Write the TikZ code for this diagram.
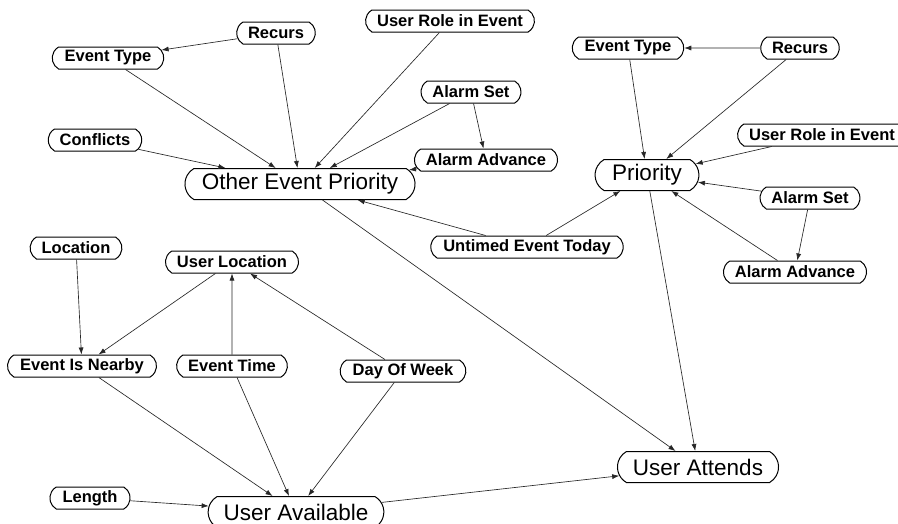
\documentclass[tikz,border=0pt]{standalone}
\usepackage{fontspec}
\setmainfont{Liberation Sans}
\usetikzlibrary{shapes.misc,arrows.meta}
\begin{document}
\begin{tikzpicture}[x=1pt,y=-1pt,
  var/.style={rounded rectangle, rounded rectangle arc length=120, draw,
    line width=1pt, inner xsep=10pt, inner ysep=0pt, minimum height=22pt,
    font=\fontsize{16.5}{19}\selectfont\bfseries},
  key/.style={var, minimum height=31pt, inner xsep=13.5pt,
    font=\fontsize{22.5}{26}\selectfont},
  link/.style={-{Latex[length=7pt,width=5pt]}, line width=0.65pt, draw=black!85},
]
\fill[white] (0,0) rectangle (898,523);
\useasboundingbox (0,0) rectangle (898,523);

% left cluster: other event priority
\node[var] (recL) at (276,33)  {Recurs};
\node[var] (etL)  at (108,58)  {Event Type};
\node[var] (urL)  at (450,21)  {User Role in Event};
\node[var] (conf) at (95,140)  {Conflicts};
\node[var] (asL)  at (471,92)  {Alarm Set};
\node[var] (aaL)  at (486,160) {Alarm Advance};
\node[key] (oep)  at (300,184) {Other Event Priority};
\node[var] (unt)  at (527,247) {Untimed Event Today};

% right cluster: priority
\node[var] (etR)  at (628,48)  {Event Type};
\node[var] (recR) at (800,48)  {Recurs};
\node[var] (urR)  at (822,135) {User Role in Event};
\node[var] (asR)  at (810,198) {Alarm Set};
\node[var] (aaR)  at (795,272) {Alarm Advance};
\node[key] (pri)  at (647,175) {Priority};

% availability
\node[var] (loc)   at (76,248)  {Location};
\node[var] (uloc)  at (232,262) {User Location};
\node[var] (ein)   at (82,366)  {Event Is Nearby};
\node[var] (etime) at (232,366) {Event Time};
\node[var] (dow)   at (403,371) {Day Of Week};
\node[var] (len)   at (90,498)  {Length};
\node[key] (uav)   at (296,512) {User Available};
\node[key] (uatt)  at (698,467) {User Attends};

% influences
\draw[link] (recL) -- (etL);
\draw[link] (etL) -- (oep);
\draw[link] (recL) -- (oep);
\draw[link] (urL) -- (oep);
\draw[link] (asL) -- (oep);
\draw[link] (asL) -- (aaL);
\draw[link] (aaL) -- (oep);
\draw[link] (conf) -- (oep);
\draw[link] (unt) -- (oep);
\draw[link] (unt) -- (pri);
\draw[link] (oep) -- (uatt);

\draw[link] (recR) -- (etR);
\draw[link] (etR) -- (pri);
\draw[link] (recR) -- (pri);
\draw[link] (urR) -- (pri);
\draw[link] (asR) -- (pri);
\draw[link] (asR) -- (aaR);
\draw[link] (aaR) -- (pri);
\draw[link] (pri) -- (uatt);

\draw[link] (loc) -- (ein);
\draw[link] (uloc) -- (ein);
\draw[link] (etime) -- (uloc);
\draw[link] (dow) -- (uloc);
\draw[link] (ein) -- (uav);
\draw[link] (etime) -- (uav);
\draw[link] (dow) -- (uav);
\draw[link] (len) -- (uav);
\draw[link] (uav) -- (uatt);
\end{tikzpicture}
\end{document}
